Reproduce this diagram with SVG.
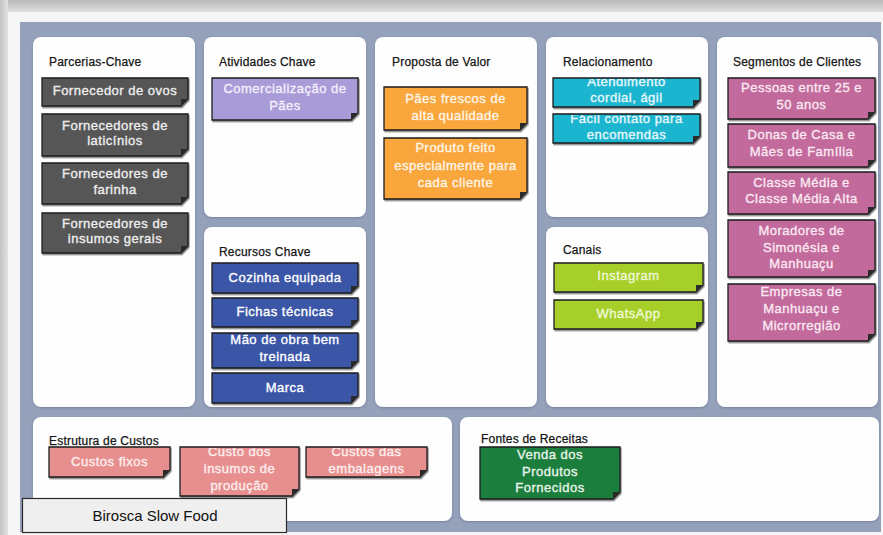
<svg xmlns="http://www.w3.org/2000/svg" width="883" height="535" viewBox="0 0 883 535">
<defs>
<linearGradient id="topg" x1="0" y1="0" x2="0" y2="1"><stop offset="0" stop-color="#b9b9b9"/><stop offset="1" stop-color="#dedede"/></linearGradient>
<linearGradient id="leftg" x1="0" y1="0" x2="1" y2="0"><stop offset="0" stop-color="#c4c4c4"/><stop offset="1" stop-color="#e2e2e2"/></linearGradient>
<filter id="sh" x="-10%" y="-10%" width="130%" height="140%"><feDropShadow dx="1" dy="1.5" stdDeviation="0.7" flood-color="#000" flood-opacity="0.45"/></filter>
<filter id="psh" x="-5%" y="-5%" width="110%" height="110%"><feDropShadow dx="0" dy="1" stdDeviation="1" flood-color="#3a4560" flood-opacity="0.35"/></filter>
<clipPath id="c1"><rect x="1" y="1" width="145" height="27"/></clipPath>
<clipPath id="c2"><rect x="1" y="1" width="117" height="47"/></clipPath>
<clipPath id="c3"><rect x="1" y="1" width="119" height="28"/></clipPath>
<clipPath id="c4"><rect x="1" y="1" width="138" height="50"/></clipPath>
<clipPath id="c5"><rect x="1" y="1" width="145" height="55"/></clipPath>
<clipPath id="c6"><rect x="1" y="1" width="144" height="33"/></clipPath>
<style>
.panel{fill:#fefefe;filter:url(#psh)}
.title{font-family:"Liberation Sans",Arial,sans-serif;font-size:12px;fill:#151515;stroke:#151515;stroke-width:0.25;letter-spacing:0.2px}
.nt{font-family:"Liberation Sans",Arial,sans-serif;font-size:13px;text-anchor:middle;letter-spacing:0.5px;stroke-width:0.35}
.note{stroke:#1c1c1c;stroke-width:1.3;filter:url(#sh)}
.flap{fill:#2a2a2a}
.gray .note{fill:#565656}.gray .nt{fill:#eeeeee;stroke:#eeeeee}
.lav .note{fill:#a99bd8}.lav .nt{fill:#f3f0fb;stroke:#f3f0fb}
.org .note{fill:#f9a63c}.org .nt{fill:#fff5e6;stroke:#fff5e6}
.cyan .note{fill:#1db5d0}.cyan .nt{fill:#e6f7fb;stroke:#e6f7fb}
.pink .note{fill:#c26a9c}.pink .nt{fill:#fae8f2;stroke:#fae8f2}
.lime .note{fill:#a6cf2c}.lime .nt{fill:#f1f8d8;stroke:#f1f8d8}
.blue .note{fill:#3a54a7}.blue .nt{fill:#ffffff;stroke:#ffffff}
.sal .note{fill:#e78f8f}.sal .nt{fill:#fdeeee;stroke:#fdeeee}
.grn .note{fill:#1e7e3c}.grn .nt{fill:#e8f4ea;stroke:#e8f4ea}
</style>
</defs>
<rect x="0" y="0" width="883" height="535" fill="#e6e6e6"/>
<rect x="0" y="0" width="883" height="12" fill="url(#topg)"/>
<rect x="0" y="0" width="8" height="535" fill="url(#leftg)"/>
<rect x="8" y="12" width="875" height="523" fill="#f6f6f6"/>
<rect x="20" y="22" width="861" height="510" fill="#95a1ba"/>

<g id="parcerias-chave">
<rect class="panel" x="33" y="37" width="162" height="370" rx="8"/>
<text class="title" x="49" y="66">Parcerias-Chave</text>
<g class="gray" transform="translate(42,78)"><path class="note" d="M0,0H146V21L139,28H0Z"/><path class="flap" d="M146,21L139,28L139,21Z"/><text class="nt" x="73" y="17">Fornecedor de ovos</text></g>
<g class="gray" transform="translate(42,114)"><path class="note" d="M0,0H146V35L139,42H0Z"/><path class="flap" d="M146,35L139,42L139,35Z"/><text class="nt" x="73" y="16">Fornecedores de</text><text class="nt" x="73" y="31">laticínios</text></g>
<g class="gray" transform="translate(42,163)"><path class="note" d="M0,0H146V34L139,41H0Z"/><path class="flap" d="M146,34L139,41L139,34Z"/><text class="nt" x="73" y="15">Fornecedores de</text><text class="nt" x="73" y="31">farinha</text></g>
<g class="gray" transform="translate(42,213)"><path class="note" d="M0,0H146V33L139,40H0Z"/><path class="flap" d="M146,33L139,40L139,33Z"/><text class="nt" x="73" y="15">Fornecedores de</text><text class="nt" x="73" y="30">insumos gerais</text></g>
</g>

<g id="atividades-chave">
<rect class="panel" x="204" y="37" width="162" height="180" rx="8"/>
<text class="title" x="219" y="66">Atividades Chave</text>
<g class="lav" transform="translate(212,78)"><path class="note" d="M0,0H146V35L139,42H0Z"/><path class="flap" d="M146,35L139,42L139,35Z"/><text class="nt" x="73" y="15">Comercialização de</text><text class="nt" x="73" y="32">Pães</text></g>
</g>

<g id="recursos-chave">
<rect class="panel" x="204" y="227" width="162" height="180" rx="8"/>
<text class="title" x="219" y="256">Recursos Chave</text>
<g class="blue" transform="translate(212,263)"><path class="note" d="M0,0H146V23L139,30H0Z"/><path class="flap" d="M146,23L139,30L139,23Z"/><text class="nt" x="73" y="19">Cozinha equipada</text></g>
<g class="blue" transform="translate(212,298)"><path class="note" d="M0,0H146V22L139,29H0Z"/><path class="flap" d="M146,22L139,29L139,22Z"/><text class="nt" x="73" y="18">Fichas técnicas</text></g>
<g class="blue" transform="translate(212,333)"><path class="note" d="M0,0H146V28L139,35H0Z"/><path class="flap" d="M146,28L139,35L139,28Z"/><g clip-path="url(#c6)"><text class="nt" x="73" y="11">Mão de obra bem</text><text class="nt" x="73" y="28">treinada</text></g></g>
<g class="blue" transform="translate(212,373)"><path class="note" d="M0,0H146V23L139,30H0Z"/><path class="flap" d="M146,23L139,30L139,23Z"/><text class="nt" x="73" y="19">Marca</text></g>
</g>

<g id="proposta-de-valor">
<rect class="panel" x="375" y="37" width="162" height="370" rx="8"/>
<text class="title" x="392" y="66">Proposta de Valor</text>
<g class="org" transform="translate(384,87)"><path class="note" d="M0,0H143V36L136,43H0Z"/><path class="flap" d="M143,36L136,43L136,36Z"/><text class="nt" x="71.5" y="16">Pães frescos de</text><text class="nt" x="71.5" y="33">alta qualidade</text></g>
<g class="org" transform="translate(384,138)"><path class="note" d="M0,0H143V54L136,61H0Z"/><path class="flap" d="M143,54L136,61L136,54Z"/><text class="nt" x="71.5" y="14">Produto feito</text><text class="nt" x="71.5" y="32">especialmente para</text><text class="nt" x="71.5" y="49">cada cliente</text></g>
</g>

<g id="relacionamento">
<rect class="panel" x="546" y="37" width="162" height="180" rx="8"/>
<text class="title" x="563" y="66">Relacionamento</text>
<g class="cyan" transform="translate(553,78)"><path class="note" d="M0,0H147V22L140,29H0Z"/><path class="flap" d="M147,22L140,29L140,22Z"/><g clip-path="url(#c1)"><text class="nt" x="73.5" y="8">Atendimento</text><text class="nt" x="73.5" y="24">cordial, ágil</text></g></g>
<g class="cyan" transform="translate(553,114)"><path class="note" d="M0,0H147V22L140,29H0Z"/><path class="flap" d="M147,22L140,29L140,22Z"/><g clip-path="url(#c1)"><text class="nt" x="73.5" y="9">Fácil contato para</text><text class="nt" x="73.5" y="25">encomendas</text></g></g>
</g>

<g id="canais">
<rect class="panel" x="546" y="227" width="162" height="180" rx="8"/>
<text class="title" x="563" y="254">Canais</text>
<g class="lime" transform="translate(554,263)"><path class="note" d="M0,0H149V22L142,29H0Z"/><path class="flap" d="M149,22L142,29L142,22Z"/><text class="nt" x="74.5" y="17">Instagram</text></g>
<g class="lime" transform="translate(554,300)"><path class="note" d="M0,0H149V22L142,29H0Z"/><path class="flap" d="M149,22L142,29L142,22Z"/><text class="nt" x="74.5" y="18">WhatsApp</text></g>
</g>

<g id="segmentos-de-clientes">
<rect class="panel" x="717" y="37" width="161" height="370" rx="8"/>
<text class="title" x="733" y="66">Segmentos de Clientes</text>
<g class="pink" transform="translate(728,78)"><path class="note" d="M0,0H147V34L140,41H0Z"/><path class="flap" d="M147,34L140,41L140,34Z"/><text class="nt" x="73.5" y="14">Pessoas entre 25 e</text><text class="nt" x="73.5" y="31">50 anos</text></g>
<g class="pink" transform="translate(728,124)"><path class="note" d="M0,0H147V36L140,43H0Z"/><path class="flap" d="M147,36L140,43L140,36Z"/><text class="nt" x="73.5" y="15">Donas de Casa e</text><text class="nt" x="73.5" y="32">Mães de Família</text></g>
<g class="pink" transform="translate(728,172)"><path class="note" d="M0,0H147V35L140,42H0Z"/><path class="flap" d="M147,35L140,42L140,35Z"/><text class="nt" x="73.5" y="15">Classe Média e</text><text class="nt" x="73.5" y="31">Classe Média Alta</text></g>
<g class="pink" transform="translate(728,220)"><path class="note" d="M0,0H147V50L140,57H0Z"/><path class="flap" d="M147,50L140,57L140,50Z"/><text class="nt" x="73.5" y="15">Moradores de</text><text class="nt" x="73.5" y="32">Simonésia e</text><text class="nt" x="73.5" y="48">Manhuaçu</text></g>
<g class="pink" transform="translate(728,284)"><path class="note" d="M0,0H147V50L140,57H0Z"/><path class="flap" d="M147,50L140,57L140,50Z"/><g clip-path="url(#c5)"><text class="nt" x="73.5" y="12">Empresas de</text><text class="nt" x="73.5" y="29">Manhuaçu e</text><text class="nt" x="73.5" y="46">Microrregião</text></g></g>
</g>

<g id="estrutura-de-custos">
<rect class="panel" x="33" y="417" width="419" height="104" rx="8"/>
<text class="title" x="49" y="445">Estrutura de Custos</text>
<g class="sal" transform="translate(49,447)"><path class="note" d="M0,0H121V23L114,30H0Z"/><path class="flap" d="M121,23L114,30L114,23Z"/><text class="nt" x="60.5" y="19">Custos fixos</text></g>
<g class="sal" transform="translate(180,447)"><path class="note" d="M0,0H119V42L112,49H0Z"/><path class="flap" d="M119,42L112,49L112,42Z"/><g clip-path="url(#c2)"><text class="nt" x="59.5" y="9">Custo dos</text><text class="nt" x="59.5" y="26">insumos de</text><text class="nt" x="59.5" y="43">produção</text></g></g>
<g class="sal" transform="translate(306,447)"><path class="note" d="M0,0H121V23L114,30H0Z"/><path class="flap" d="M121,23L114,30L114,23Z"/><g clip-path="url(#c3)"><text class="nt" x="60.5" y="9">Custos das</text><text class="nt" x="60.5" y="26">embalagens</text></g></g>
</g>

<g id="fontes-de-receitas">
<rect class="panel" x="460" y="417" width="419" height="104" rx="8"/>
<text class="title" x="481" y="443">Fontes de Receitas</text>
<g class="grn" transform="translate(480,447)"><path class="note" d="M0,0H140V45L133,52H0Z"/><path class="flap" d="M140,45L133,52L133,45Z"/><g clip-path="url(#c4)"><text class="nt" x="70" y="12">Venda dos</text><text class="nt" x="70" y="28.5">Produtos</text><text class="nt" x="70" y="45">Fornecidos</text></g></g>
</g>

<g id="birosca-slow-food">
<rect x="22.5" y="498.5" width="264" height="34" fill="#efefef" stroke="#2a2a2a" stroke-width="1.2"/>
<text x="155" y="521" text-anchor="middle" font-family="'Liberation Sans',Arial,sans-serif" font-size="15" fill="#111">Birosca Slow Food</text>
</g>

<g id="connectors"/>
</svg>
